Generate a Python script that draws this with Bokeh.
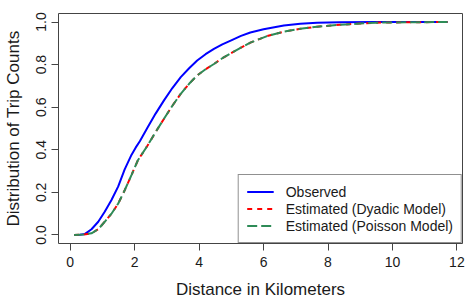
from bokeh.plotting import figure
from bokeh.models import Range1d, Legend, LegendItem, FixedTicker
from bokeh.embed import file_html
from bokeh.resources import INLINE

# Observed cumulative distribution
obs_x = [0.12, 0.3, 0.46, 0.66, 0.87, 1.07, 1.28, 1.49, 1.69, 1.9, 2.03, 2.16, 2.4, 2.65,
         2.91, 3.17, 3.43, 3.69, 3.94, 4.2, 4.46, 4.72, 4.98, 5.3, 5.59, 6.0, 6.63, 7.14,
         7.66, 8.38, 9.5, 10.5, 11.71]
obs_y = [0.0, 0.001, 0.005, 0.027, 0.062, 0.109, 0.164, 0.228, 0.308, 0.376, 0.41, 0.44,
         0.505, 0.57, 0.632, 0.69, 0.741, 0.783, 0.819, 0.849, 0.874, 0.895, 0.913, 0.935,
         0.951, 0.966, 0.984, 0.992, 0.996, 0.999, 1.0, 1.0, 1.0]

# Estimated (Dyadic model)
dyadic_x = [0.12, 0.4, 0.66, 0.87, 1.07, 1.28, 1.49, 1.69, 1.9, 2.1, 2.4, 2.65, 2.91, 3.17,
            3.43, 3.69, 3.94, 4.2, 4.46, 4.72, 4.98, 5.3, 5.59, 6.11, 6.63, 7.14, 7.66, 8.38,
            9.0, 9.5, 10.5, 11.71]
dyadic_y = [0.0, 0.002, 0.008, 0.027, 0.062, 0.1, 0.148, 0.21, 0.281, 0.351, 0.42, 0.483,
            0.546, 0.607, 0.663, 0.71, 0.749, 0.778, 0.803, 0.83, 0.853, 0.88, 0.903, 0.934,
            0.955, 0.968, 0.978, 0.987, 0.993, 0.997, 0.999, 1.0]

# Estimated (Poisson model)
poisson_x = [0.12, 0.4, 0.66, 0.87, 1.07, 1.28, 1.49, 1.69, 1.9, 2.1, 2.4, 2.65, 2.91, 3.17,
             3.43, 3.69, 3.94, 4.2, 4.46, 4.72, 4.98, 5.3, 5.59, 6.11, 6.63, 7.14, 7.66, 8.38,
             9.0, 9.5, 10.5, 11.71]
poisson_y = [0.0, 0.002, 0.008, 0.027, 0.062, 0.1, 0.148, 0.21, 0.281, 0.351, 0.42, 0.483,
             0.546, 0.607, 0.663, 0.71, 0.749, 0.778, 0.803, 0.83, 0.853, 0.88, 0.903, 0.934,
             0.955, 0.968, 0.978, 0.987, 0.993, 0.997, 0.999, 1.0]

x_ticks = [0, 2, 4, 6, 8, 10, 12]
y_ticks = [0.0, 0.2, 0.4, 0.6, 0.8, 1.0]
y_tick_labels = {0.0: "0.0", 0.2: "0.2", 0.4: "0.4", 0.6: "0.6", 0.8: "0.8", 1.0: "1.0"}
labels = ["Observed", "Estimated (Dyadic Model)", "Estimated (Poisson Model)"]

FONT = "Liberation Sans"

p = figure(width=475, height=302, output_backend="svg", toolbar_location=None,
           x_range=Range1d(-0.364, 12.174), y_range=Range1d(-0.04, 1.04),
           min_border_left=58, min_border_right=13, min_border_top=13, min_border_bottom=59)
p.background_fill_color = "white"
p.border_fill_color = "white"
p.outline_line_color = "#444444"
p.outline_line_width = 1
p.xgrid.visible = False
p.ygrid.visible = False

r_obs = p.line(obs_x, obs_y, line_color="#0000FF", line_width=2)
r_dy = p.line(dyadic_x, dyadic_y, line_color="#FF0000", line_width=2, line_dash="5 5")
r_po = p.line(poisson_x, poisson_y, line_color="#2E8B57", line_width=2, line_dash="10 4")

for ax in (p.xaxis[0], p.yaxis[0]):
    ax.axis_line_color = None
    ax.major_tick_line_color = "#444444"
    ax.major_tick_out = 7
    ax.major_tick_in = 0
    ax.minor_tick_line_color = None
    ax.major_label_text_font = FONT
    ax.major_label_text_font_size = "14px"
    ax.major_label_text_color = "#1a1a1a"
    ax.axis_label_text_font = FONT
    ax.axis_label_text_font_size = "17px"
    ax.axis_label_text_font_style = "normal"
    ax.axis_label_text_color = "#1a1a1a"

p.xaxis[0].ticker = FixedTicker(ticks=x_ticks)
p.yaxis[0].ticker = FixedTicker(ticks=y_ticks)
p.yaxis[0].major_label_overrides = y_tick_labels
p.yaxis[0].major_label_orientation = "parallel"
p.xaxis[0].axis_label = "Distance in Kilometers"
p.yaxis[0].axis_label = "Distribution of Trip Counts"
p.xaxis[0].major_label_standoff = 6
p.yaxis[0].major_label_standoff = 5
p.xaxis[0].axis_label_standoff = 10
p.yaxis[0].axis_label_standoff = 11

legend = Legend(items=[LegendItem(label=labels[0], renderers=[r_obs]),
                       LegendItem(label=labels[1], renderers=[r_dy]),
                       LegendItem(label=labels[2], renderers=[r_po])],
                location="bottom_right", margin=0, padding=8, spacing=0,
                label_height=17, glyph_height=17, glyph_width=27, label_standoff=12,
                label_text_font=FONT, label_text_font_size="14px", label_text_color="#1a1a1a",
                border_line_color="#222222", border_line_width=1,
                background_fill_color="white", background_fill_alpha=1.0)
p.add_layout(legend, "center")

open("out.html", "w").write(file_html(p, INLINE))
